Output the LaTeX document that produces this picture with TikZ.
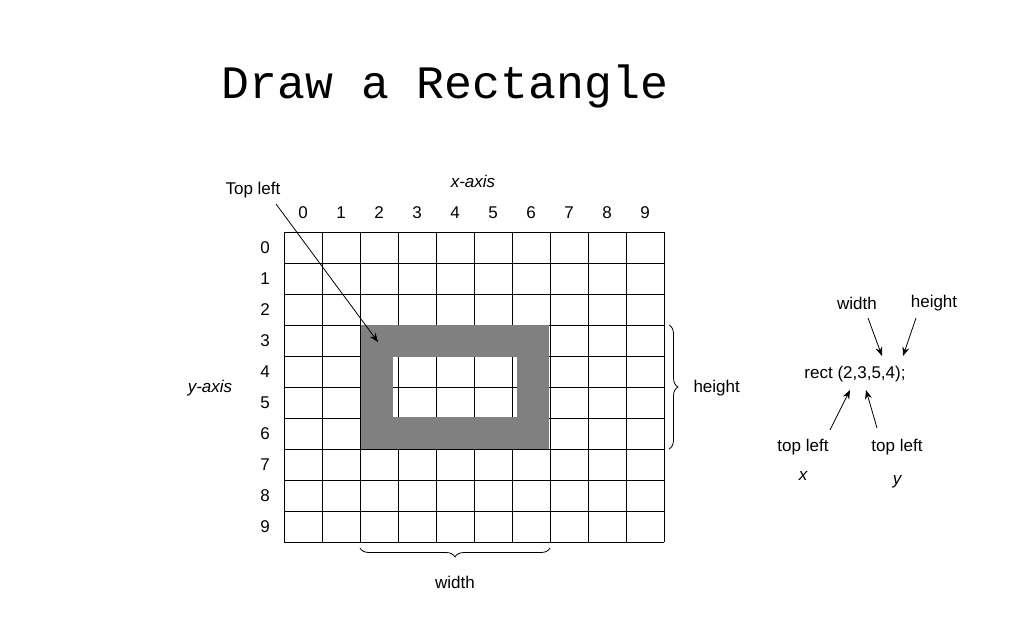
\documentclass[tikz,border=0pt]{standalone}
\usepackage{fontspec}
\setmainfont{Liberation Sans}
\newfontfamily\monof{Liberation Mono}
\usetikzlibrary{decorations.pathreplacing,arrows.meta}
\begin{document}
\begin{tikzpicture}[x=1pt,y=-1pt,
  hand/.style={font=\fontsize{17}{17}\selectfont},
  arr/.style={-{Stealth[length=9pt,width=7pt]},thick}]
\useasboundingbox (0,0) rectangle (1024,640);
\node[font=\monof\fontsize{46.5}{46}\selectfont,anchor=base west] (title) at (218,98) {Draw a Rectangle};
% grid
\foreach \i in {0,...,10}{
  \draw[thick] (284+38*\i,232) -- (284+38*\i,542);
  \draw[thick] (284,232+31*\i) -- (664,232+31*\i);
}
% band
\draw[line width=32pt,color={rgb,255:red,128;green,128;blue,128},line join=miter] (377,341) rectangle (533,433);
\foreach \i in {0,...,9}{
  \node[hand] (xl\i) at (303+38*\i,213) {\i};
  \node[hand] (yl\i) at (265,248+31*\i) {\i};
}
\node[hand,font=\fontsize{17}{17}\selectfont\itshape] (xaxis) at (473,181) {x-axis};
\node[hand,font=\fontsize{17}{17}\selectfont\itshape] (yaxis) at (210,388) {y-axis};
\node[hand] (tl) at (253,190) {Top left};
\coordinate (tlc) at (378,342);
\draw[arr] (276,204) -- (tlc);
\draw[thick,decorate,decoration={brace,amplitude=9pt}] (669,325) -- (669,449);
\node[hand,anchor=west] (h) at (690,388) {height};
\draw[thick,decorate,decoration={brace,amplitude=9pt,mirror}] (360,548) -- (550,548);
\node[hand] (w) at (455,582) {width};
% right side
\node[hand] (rect) at (855,374) {rect (2,3,5,4);};
\node[hand] (rw) at (857,303) {width};
\node[hand] (rh) at (934,303) {height};
\node[hand] (tx) at (803,447) {top left};
\node[hand,font=\fontsize{17}{17}\selectfont\itshape] (x) at (803,476) {x};
\node[hand] (ty) at (897,447) {top left};
\node[hand,font=\fontsize{17}{17}\selectfont\itshape] (y) at (897,482) {y};
\coordinate (a1) at (882,356); \coordinate (a2) at (903,356);
\coordinate (a3) at (850,390); \coordinate (a4) at (866,390);
\draw[arr] (868,318) -- (a1);
\draw[arr] (916,318) -- (a2);
\draw[arr] (830,430) -- (a3);
\draw[arr] (877,428) -- (a4);
\end{tikzpicture}
\end{document}
